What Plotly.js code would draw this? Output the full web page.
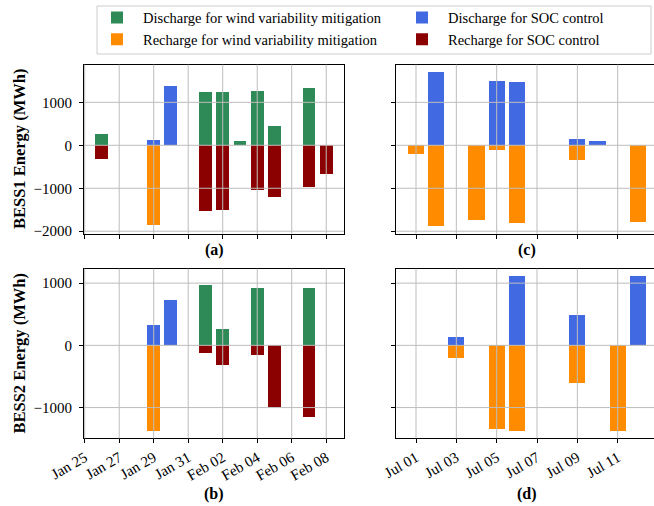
<!DOCTYPE html>
<html>
<head>
<meta charset="utf-8">
<script src="https://cdn.plot.ly/plotly-3.0.1.min.js"></script>
<style>html,body{margin:0;padding:0;background:#fff;}#chart{width:654px;height:506px;}</style>
</head>
<body>
<div id="chart"></div>
<script>
// ---------- data (MWh) ----------
// Panel (a): BESS1, Jan/Feb
const A_DW_X = ['2020-01-26','2020-02-01','2020-02-02','2020-02-03','2020-02-04','2020-02-05','2020-02-07'];
const A_DW_Y = [260, 1240, 1240, 100, 1265, 450, 1335];
const A_RW_X = ['2020-01-29'];
const A_RW_Y = [-1845];
const A_DS_X = ['2020-01-29','2020-01-30'];
const A_DS_Y = [120, 1380];
const A_RS_X = ['2020-01-26','2020-02-01','2020-02-02','2020-02-04','2020-02-05','2020-02-07','2020-02-08'];
const A_RS_Y = [-320, -1520, -1495, -1030, -1215, -960, -660];

// Panel (c): BESS1, July
const C_DW_X = [];
const C_DW_Y = [];
const C_RW_X = ['2020-07-01','2020-07-02','2020-07-04','2020-07-05','2020-07-06','2020-07-09','2020-07-12'];
const C_RW_Y = [-200, -1890, -1730, -100, -1800, -335, -1775];
const C_DS_X = ['2020-07-02','2020-07-05','2020-07-06','2020-07-09','2020-07-10'];
const C_DS_Y = [1705, 1495, 1475, 145, 100];
const C_RS_X = [];
const C_RS_Y = [];

// Panel (b): BESS2, Jan/Feb
const B_DW_X = ['2020-02-01','2020-02-02','2020-02-04','2020-02-07'];
const B_DW_Y = [970, 262, 920, 920];
const B_RW_X = ['2020-01-29'];
const B_RW_Y = [-1370];
const B_DS_X = ['2020-01-29','2020-01-30'];
const B_DS_Y = [326, 727];
const B_RS_X = ['2020-02-01','2020-02-02','2020-02-04','2020-02-05','2020-02-07'];
const B_RS_Y = [-118, -310, -150, -985, -1145];

// Panel (d): BESS2, July
const D_DW_X = [];
const D_DW_Y = [];
const D_RW_X = ['2020-07-03','2020-07-05','2020-07-06','2020-07-09','2020-07-11'];
const D_RW_Y = [-198, -1337, -1370, -600, -1370];
const D_DS_X = ['2020-07-03','2020-07-06','2020-07-09','2020-07-12'];
const D_DS_Y = [134, 1112, 487, 1112];
const D_RS_X = [];
const D_RS_Y = [];

const SERIES_NAMES = ['Discharge for wind variability mitigation', 'Discharge for SOC control',
                      'Recharge for wind variability mitigation', 'Recharge for SOC control'];
const X_TICKS_WINTER = ['2020-01-25','2020-01-27','2020-01-29','2020-01-31','2020-02-02','2020-02-04','2020-02-06','2020-02-08'];
const X_TICKS_SUMMER = ['2020-07-01','2020-07-03','2020-07-05','2020-07-07','2020-07-09','2020-07-11'];
const Y_TICKS_TOP = [-2000, -1000, 0, 1000];
const Y_TICKS_BOTTOM = [-1000, 0, 1000];
const PANEL_LABELS = ['(a)', '(c)', '(b)', '(d)'];
const Y_TITLES = ['BESS1 Energy (MWh)', 'BESS2 Energy (MWh)'];

// ---------- styling ----------
const COLORS = ['#2e8b57', '#4169e1', '#ff8c00', '#8b0000'];
const LEGEND_OF = ['legend', 'legend2', 'legend', 'legend2'];
const DAY = 86400000;
const FONT = 'Liberation Serif, Times New Roman, serif';

const panels = [
  {xa:'x',  ya:'y',  w:0.75, s:[[A_DW_X,A_DW_Y],[A_DS_X,A_DS_Y],[A_RW_X,A_RW_Y],[A_RS_X,A_RS_Y]]},
  {xa:'x2', ya:'y2', w:0.8,  s:[[C_DW_X,C_DW_Y],[C_DS_X,C_DS_Y],[C_RW_X,C_RW_Y],[C_RS_X,C_RS_Y]]},
  {xa:'x3', ya:'y3', w:0.75, s:[[B_DW_X,B_DW_Y],[B_DS_X,B_DS_Y],[B_RW_X,B_RW_Y],[B_RS_X,B_RS_Y]]},
  {xa:'x4', ya:'y4', w:0.8,  s:[[D_DW_X,D_DW_Y],[D_DS_X,D_DS_Y],[D_RW_X,D_RW_Y],[D_RS_X,D_RS_Y]]}
];

const traces = [];
panels.forEach((p, pi) => {
  p.s.forEach((sr, si) => {
    traces.push({
      type: 'bar', x: sr[0], y: sr[1], xaxis: p.xa, yaxis: p.ya,
      width: sr[0].map(() => p.w * DAY),
      marker: {color: COLORS[si], line: {width: 0}},
      name: SERIES_NAMES[si], legendgroup: 'g' + si, legend: LEGEND_OF[si],
      showlegend: pi === 0, hoverinfo: 'skip'
    });
  });
});

const XL = [84/654, 344/654];
const XR = [396.3/654, 1];
const YT = [1 - 233.7/506, 1 - 64.7/506];
const YB = [1 - 438.3/506, 1 - 268.7/506];
const RANGE_WINTER = ['2020-01-24 23:02', '2020-02-09 00:43'];
const RANGE_SUMMER = ['2020-06-30 00:33', '2020-07-12 19:12'];
const RANGE_Y_TOP = [-2058, 1876];
const RANGE_Y_BOTTOM = [-1494, 1232];

function xax(domain, anchor, range, labels) {
  return {domain: domain, anchor: anchor, type: 'date', range: range,
    tick0: range === RANGE_WINTER ? '2020-01-25' : '2020-07-01', dtick: 2*DAY,
    tickformat: '%b %d', tickangle: -30, showticklabels: labels,
    ticks: 'outside', ticklen: 4, tickwidth: 1, tickcolor: '#000',
    showline: true, linecolor: '#000', linewidth: 1, mirror: true,
    showgrid: false, zeroline: false,
    tickfont: {family: FONT, size: 15, color: '#000'}};
}
function yax(domain, anchor, range, labels, mirror) {
  return {domain: domain, anchor: anchor, range: range,
    tickvals: range === RANGE_Y_TOP ? Y_TICKS_TOP : Y_TICKS_BOTTOM,
    showticklabels: labels, ticklabelstandoff: 4,
    ticks: 'outside', ticklen: 4, tickwidth: 1, tickcolor: '#000',
    showline: true, linecolor: '#000', linewidth: 1, mirror: mirror,
    showgrid: false, zeroline: false,
    tickfont: {family: FONT, size: 15, color: '#000'}};
}

// gridlines drawn above bars (as in the reference)
const GRID = '#bdbdbd';
const shapes = [];
const gridSpec = [
  ['x','y',X_TICKS_WINTER,Y_TICKS_TOP], ['x2','y2',X_TICKS_SUMMER,Y_TICKS_TOP],
  ['x3','y3',X_TICKS_WINTER,Y_TICKS_BOTTOM], ['x4','y4',X_TICKS_SUMMER,Y_TICKS_BOTTOM]
];
gridSpec.forEach(g => {
  g[2].forEach(t => shapes.push({type:'line', layer:'above', xref:g[0], yref:g[1]+' domain',
    x0:t, x1:t, y0:0, y1:1, line:{color:GRID, width:1}}));
  g[3].forEach(t => shapes.push({type:'line', layer:'above', xref:g[0]+' domain', yref:g[1],
    x0:0, x1:1, y0:t, y1:t, line:{color:GRID, width:1}}));
});
// legend frame
shapes.push({type:'rect', layer:'above', xref:'paper', yref:'paper',
  x0:97/654, x1:651/654, y0:1-54/506, y1:1-6/506,
  fillcolor:'#fff', line:{color:'#cccccc', width:1}});

const annotations = [
  {text:'<b>'+PANEL_LABELS[0]+'</b>', x:214/654, y:1-250/506},
  {text:'<b>'+PANEL_LABELS[1]+'</b>', x:527/654, y:1-250/506},
  {text:'<b>'+PANEL_LABELS[2]+'</b>', x:214/654, y:1-494/506},
  {text:'<b>'+PANEL_LABELS[3]+'</b>', x:527/654, y:1-494/506},
  {text:'<b>'+Y_TITLES[0]+'</b>', x:19/654, y:1-149/506, textangle:-90, font:{family:FONT, size:16.5, color:'#000'}},
  {text:'<b>'+Y_TITLES[1]+'</b>', x:19/654, y:1-353.5/506, textangle:-90, font:{family:FONT, size:16.5, color:'#000'}}
].map(a => Object.assign({xref:'paper', yref:'paper', showarrow:false, xanchor:'center', yanchor:'middle',
  font:{family:FONT, size:16, color:'#000'}}, a));

const legendBase = {orientation:'v', yanchor:'top', xanchor:'left', y:1-1.5/506,
  itemwidth: 42, traceorder:'normal', tracegroupgap: 0,
  borderwidth:0, bgcolor:'rgba(0,0,0,0)',
  font:{family:FONT, size:14.5, color:'#000'}};

const layout = {
  width: 654, height: 506,
  margin: {l:0, r:0, t:0, b:0},
  paper_bgcolor: '#fff', plot_bgcolor: '#fff',
  barmode: 'overlay', bargap: 0,
  xaxis:  xax(XL, 'y',  RANGE_WINTER, false),
  xaxis2: xax(XR, 'y2', RANGE_SUMMER, false),
  xaxis3: xax(XL, 'y3', RANGE_WINTER, true),
  xaxis4: xax(XR, 'y4', RANGE_SUMMER, true),
  yaxis:  yax(YT, 'x',  RANGE_Y_TOP, true, true),
  yaxis2: yax(YT, 'x2', RANGE_Y_TOP, false, false),
  yaxis3: yax(YB, 'x3', RANGE_Y_BOTTOM, true, true),
  yaxis4: yax(YB, 'x4', RANGE_Y_BOTTOM, false, false),
  legend:  Object.assign({}, legendBase, {x: 91/654}),
  legend2: Object.assign({}, legendBase, {x: 396/654}),
  shapes: shapes,
  annotations: annotations
};

Plotly.newPlot('chart', traces, layout, {displayModeBar:false, staticPlot:true});
</script>
</body>
</html>
